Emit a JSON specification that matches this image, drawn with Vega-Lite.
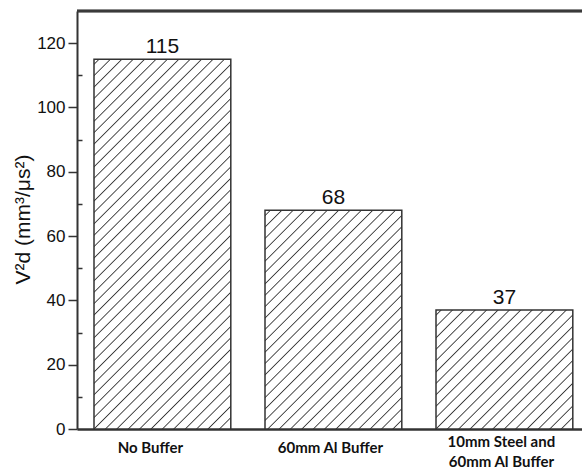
{
  "$schema": "https://vega.github.io/schema/vega-lite/v6.json",
  "width": 505,
  "height": 418,
  "autosize": {"type": "none"},
  "padding": {"left": 77, "top": 11, "right": 0, "bottom": 40},
  "background": "#ffffff",
  "config": {"view": {"stroke": null}},
  "data": {
    "values": [
      {"buffer": "No Buffer", "v2d": 115},
      {"buffer": "60mm Al Buffer", "v2d": 68},
      {"buffer": "10mm Steel and 60mm Al Buffer", "v2d": 37}
    ]
  },
  "encoding": {
    "x": {
      "field": "buffer",
      "type": "nominal",
      "sort": null,
      "scale": {"paddingInner": 0.2, "paddingOuter": 0.0766, "align": 0.649},
      "axis": {
        "title": null,
        "labelAngle": 0,
        "ticks": false,
        "domainColor": "#333333",
        "domainWidth": 2.5,
        "labelFont": "Lato",
        "labelFontWeight": "bold",
        "labelFontSize": 15,
        "labelColor": "#111111",
        "labelBaseline": "middle",
        "labelPadding": {"condition": {"test": "datum.value === '10mm Steel and 60mm Al Buffer'", "value": 12}, "value": 18},
        "labelOffset": {"condition": {"test": "datum.value === 'No Buffer'", "value": -12}, "value": -3},
        "labelLineHeight": 20,
        "labelExpr": "datum.label === '10mm Steel and 60mm Al Buffer' ? ['10mm Steel and', '60mm Al Buffer'] : datum.label"
      }
    },
    "y": {
      "field": "v2d",
      "type": "quantitative",
      "scale": {"domain": [0, 130], "nice": false, "zero": true},
      "axis": {
        "title": "V²d (mm³/μs²)",
        "titleFont": "Liberation Sans",
        "titleFontSize": 21,
        "titleFontWeight": "normal",
        "titleColor": "#111111",
        "titleAngle": 270,
        "titleAlign": "center",
        "titleBaseline": "alphabetic",
        "titleX": -48,
        "titleY": 208,
        "grid": false,
        "values": [0, 10, 20, 30, 40, 50, 60, 70, 80, 90, 100, 110, 120],
        "domainColor": "#333333",
        "domainWidth": 2,
        "tickColor": "#333333",
        "tickWidth": 1.5,
        "tickSize": {"condition": {"test": "datum.value % 20 === 0", "value": 9}, "value": -5},
        "labelExpr": "datum.value % 20 === 0 ? datum.label : ''",
        "labelFont": "Liberation Sans",
        "labelFontSize": 17,
        "labelColor": "#111111",
        "labelPadding": 3
      }
    }
  },
  "layer": [
    {
      "mark": {"type": "bar", "stroke": "#333333", "strokeWidth": 1.5},
      "encoding": {
        "fill": {
          "condition": [
            {
              "test": "datum.buffer === 'No Buffer'",
              "value": {
                "gradient": "linear", "x1": 0, "y1": 0, "x2": 0.4458, "y2": 1.205,
                "stops": [
                  {"offset": 0.0075, "color": "#fff"}, {"offset": 0.01, "color": "#3a3a3a"}, {"offset": 0.0125, "color": "#fff"},
                  {"offset": 0.03, "color": "#fff"}, {"offset": 0.0325, "color": "#3a3a3a"}, {"offset": 0.035, "color": "#fff"},
                  {"offset": 0.0525, "color": "#fff"}, {"offset": 0.055, "color": "#3a3a3a"}, {"offset": 0.0575, "color": "#fff"},
                  {"offset": 0.075, "color": "#fff"}, {"offset": 0.0775, "color": "#3a3a3a"}, {"offset": 0.08, "color": "#fff"},
                  {"offset": 0.0975, "color": "#fff"}, {"offset": 0.1, "color": "#3a3a3a"}, {"offset": 0.1025, "color": "#fff"},
                  {"offset": 0.12, "color": "#fff"}, {"offset": 0.1225, "color": "#3a3a3a"}, {"offset": 0.125, "color": "#fff"},
                  {"offset": 0.1425, "color": "#fff"}, {"offset": 0.145, "color": "#3a3a3a"}, {"offset": 0.1475, "color": "#fff"},
                  {"offset": 0.165, "color": "#fff"}, {"offset": 0.1675, "color": "#3a3a3a"}, {"offset": 0.17, "color": "#fff"},
                  {"offset": 0.1875, "color": "#fff"}, {"offset": 0.19, "color": "#3a3a3a"}, {"offset": 0.1925, "color": "#fff"},
                  {"offset": 0.21, "color": "#fff"}, {"offset": 0.2125, "color": "#3a3a3a"}, {"offset": 0.215, "color": "#fff"},
                  {"offset": 0.2325, "color": "#fff"}, {"offset": 0.235, "color": "#3a3a3a"}, {"offset": 0.2375, "color": "#fff"},
                  {"offset": 0.255, "color": "#fff"}, {"offset": 0.2575, "color": "#3a3a3a"}, {"offset": 0.26, "color": "#fff"},
                  {"offset": 0.2775, "color": "#fff"}, {"offset": 0.28, "color": "#3a3a3a"}, {"offset": 0.2825, "color": "#fff"},
                  {"offset": 0.3, "color": "#fff"}, {"offset": 0.3025, "color": "#3a3a3a"}, {"offset": 0.305, "color": "#fff"},
                  {"offset": 0.3225, "color": "#fff"}, {"offset": 0.325, "color": "#3a3a3a"}, {"offset": 0.3275, "color": "#fff"},
                  {"offset": 0.345, "color": "#fff"}, {"offset": 0.3475, "color": "#3a3a3a"}, {"offset": 0.35, "color": "#fff"},
                  {"offset": 0.3675, "color": "#fff"}, {"offset": 0.37, "color": "#3a3a3a"}, {"offset": 0.3725, "color": "#fff"},
                  {"offset": 0.39, "color": "#fff"}, {"offset": 0.3925, "color": "#3a3a3a"}, {"offset": 0.395, "color": "#fff"},
                  {"offset": 0.4125, "color": "#fff"}, {"offset": 0.415, "color": "#3a3a3a"}, {"offset": 0.4175, "color": "#fff"},
                  {"offset": 0.435, "color": "#fff"}, {"offset": 0.4375, "color": "#3a3a3a"}, {"offset": 0.44, "color": "#fff"},
                  {"offset": 0.4575, "color": "#fff"}, {"offset": 0.46, "color": "#3a3a3a"}, {"offset": 0.4625, "color": "#fff"},
                  {"offset": 0.48, "color": "#fff"}, {"offset": 0.4825, "color": "#3a3a3a"}, {"offset": 0.485, "color": "#fff"},
                  {"offset": 0.5025, "color": "#fff"}, {"offset": 0.505, "color": "#3a3a3a"}, {"offset": 0.5075, "color": "#fff"},
                  {"offset": 0.525, "color": "#fff"}, {"offset": 0.5275, "color": "#3a3a3a"}, {"offset": 0.53, "color": "#fff"},
                  {"offset": 0.5475, "color": "#fff"}, {"offset": 0.55, "color": "#3a3a3a"}, {"offset": 0.5525, "color": "#fff"},
                  {"offset": 0.57, "color": "#fff"}, {"offset": 0.5725, "color": "#3a3a3a"}, {"offset": 0.575, "color": "#fff"},
                  {"offset": 0.5925, "color": "#fff"}, {"offset": 0.595, "color": "#3a3a3a"}, {"offset": 0.5975, "color": "#fff"},
                  {"offset": 0.615, "color": "#fff"}, {"offset": 0.6175, "color": "#3a3a3a"}, {"offset": 0.62, "color": "#fff"},
                  {"offset": 0.6375, "color": "#fff"}, {"offset": 0.64, "color": "#3a3a3a"}, {"offset": 0.6425, "color": "#fff"},
                  {"offset": 0.66, "color": "#fff"}, {"offset": 0.6625, "color": "#3a3a3a"}, {"offset": 0.665, "color": "#fff"},
                  {"offset": 0.6825, "color": "#fff"}, {"offset": 0.685, "color": "#3a3a3a"}, {"offset": 0.6875, "color": "#fff"},
                  {"offset": 0.705, "color": "#fff"}, {"offset": 0.7075, "color": "#3a3a3a"}, {"offset": 0.71, "color": "#fff"},
                  {"offset": 0.7275, "color": "#fff"}, {"offset": 0.73, "color": "#3a3a3a"}, {"offset": 0.7325, "color": "#fff"},
                  {"offset": 0.75, "color": "#fff"}, {"offset": 0.7525, "color": "#3a3a3a"}, {"offset": 0.755, "color": "#fff"},
                  {"offset": 0.7725, "color": "#fff"}, {"offset": 0.775, "color": "#3a3a3a"}, {"offset": 0.7775, "color": "#fff"},
                  {"offset": 0.795, "color": "#fff"}, {"offset": 0.7975, "color": "#3a3a3a"}, {"offset": 0.8, "color": "#fff"},
                  {"offset": 0.8175, "color": "#fff"}, {"offset": 0.82, "color": "#3a3a3a"}, {"offset": 0.8225, "color": "#fff"},
                  {"offset": 0.84, "color": "#fff"}, {"offset": 0.8425, "color": "#3a3a3a"}, {"offset": 0.845, "color": "#fff"},
                  {"offset": 0.8625, "color": "#fff"}, {"offset": 0.865, "color": "#3a3a3a"}, {"offset": 0.8675, "color": "#fff"},
                  {"offset": 0.885, "color": "#fff"}, {"offset": 0.8875, "color": "#3a3a3a"}, {"offset": 0.89, "color": "#fff"},
                  {"offset": 0.9075, "color": "#fff"}, {"offset": 0.91, "color": "#3a3a3a"}, {"offset": 0.9125, "color": "#fff"},
                  {"offset": 0.93, "color": "#fff"}, {"offset": 0.9325, "color": "#3a3a3a"}, {"offset": 0.935, "color": "#fff"},
                  {"offset": 0.9525, "color": "#fff"}, {"offset": 0.955, "color": "#3a3a3a"}, {"offset": 0.9575, "color": "#fff"},
                  {"offset": 0.975, "color": "#fff"}, {"offset": 0.9775, "color": "#3a3a3a"}, {"offset": 0.98, "color": "#fff"}
                ]
              }
            },
            {
              "test": "datum.buffer === '60mm Al Buffer'",
              "value": {
                "gradient": "linear", "x1": 0, "y1": 0, "x2": 0.731, "y2": 1.1683,
                "stops": [
                  {"offset": 0.0115, "color": "#fff"}, {"offset": 0.015, "color": "#3a3a3a"}, {"offset": 0.0185, "color": "#fff"},
                  {"offset": 0.0435, "color": "#fff"}, {"offset": 0.047, "color": "#3a3a3a"}, {"offset": 0.0505, "color": "#fff"},
                  {"offset": 0.0755, "color": "#fff"}, {"offset": 0.079, "color": "#3a3a3a"}, {"offset": 0.0825, "color": "#fff"},
                  {"offset": 0.1075, "color": "#fff"}, {"offset": 0.111, "color": "#3a3a3a"}, {"offset": 0.1145, "color": "#fff"},
                  {"offset": 0.1395, "color": "#fff"}, {"offset": 0.143, "color": "#3a3a3a"}, {"offset": 0.1465, "color": "#fff"},
                  {"offset": 0.1715, "color": "#fff"}, {"offset": 0.175, "color": "#3a3a3a"}, {"offset": 0.1785, "color": "#fff"},
                  {"offset": 0.2035, "color": "#fff"}, {"offset": 0.207, "color": "#3a3a3a"}, {"offset": 0.2105, "color": "#fff"},
                  {"offset": 0.2355, "color": "#fff"}, {"offset": 0.239, "color": "#3a3a3a"}, {"offset": 0.2425, "color": "#fff"},
                  {"offset": 0.2675, "color": "#fff"}, {"offset": 0.271, "color": "#3a3a3a"}, {"offset": 0.2745, "color": "#fff"},
                  {"offset": 0.2995, "color": "#fff"}, {"offset": 0.303, "color": "#3a3a3a"}, {"offset": 0.3065, "color": "#fff"},
                  {"offset": 0.3315, "color": "#fff"}, {"offset": 0.335, "color": "#3a3a3a"}, {"offset": 0.3385, "color": "#fff"},
                  {"offset": 0.3635, "color": "#fff"}, {"offset": 0.367, "color": "#3a3a3a"}, {"offset": 0.3705, "color": "#fff"},
                  {"offset": 0.3955, "color": "#fff"}, {"offset": 0.399, "color": "#3a3a3a"}, {"offset": 0.4025, "color": "#fff"},
                  {"offset": 0.4275, "color": "#fff"}, {"offset": 0.431, "color": "#3a3a3a"}, {"offset": 0.4345, "color": "#fff"},
                  {"offset": 0.4595, "color": "#fff"}, {"offset": 0.463, "color": "#3a3a3a"}, {"offset": 0.4665, "color": "#fff"},
                  {"offset": 0.4915, "color": "#fff"}, {"offset": 0.495, "color": "#3a3a3a"}, {"offset": 0.4985, "color": "#fff"},
                  {"offset": 0.5235, "color": "#fff"}, {"offset": 0.527, "color": "#3a3a3a"}, {"offset": 0.5305, "color": "#fff"},
                  {"offset": 0.5555, "color": "#fff"}, {"offset": 0.559, "color": "#3a3a3a"}, {"offset": 0.5625, "color": "#fff"},
                  {"offset": 0.5875, "color": "#fff"}, {"offset": 0.591, "color": "#3a3a3a"}, {"offset": 0.5945, "color": "#fff"},
                  {"offset": 0.6195, "color": "#fff"}, {"offset": 0.623, "color": "#3a3a3a"}, {"offset": 0.6265, "color": "#fff"},
                  {"offset": 0.6515, "color": "#fff"}, {"offset": 0.655, "color": "#3a3a3a"}, {"offset": 0.6585, "color": "#fff"},
                  {"offset": 0.6835, "color": "#fff"}, {"offset": 0.687, "color": "#3a3a3a"}, {"offset": 0.6905, "color": "#fff"},
                  {"offset": 0.7155, "color": "#fff"}, {"offset": 0.719, "color": "#3a3a3a"}, {"offset": 0.7225, "color": "#fff"},
                  {"offset": 0.7475, "color": "#fff"}, {"offset": 0.751, "color": "#3a3a3a"}, {"offset": 0.7545, "color": "#fff"},
                  {"offset": 0.7795, "color": "#fff"}, {"offset": 0.783, "color": "#3a3a3a"}, {"offset": 0.7865, "color": "#fff"},
                  {"offset": 0.8115, "color": "#fff"}, {"offset": 0.815, "color": "#3a3a3a"}, {"offset": 0.8185, "color": "#fff"},
                  {"offset": 0.8435, "color": "#fff"}, {"offset": 0.847, "color": "#3a3a3a"}, {"offset": 0.8505, "color": "#fff"},
                  {"offset": 0.8755, "color": "#fff"}, {"offset": 0.879, "color": "#3a3a3a"}, {"offset": 0.8825, "color": "#fff"},
                  {"offset": 0.9075, "color": "#fff"}, {"offset": 0.911, "color": "#3a3a3a"}, {"offset": 0.9145, "color": "#fff"},
                  {"offset": 0.9395, "color": "#fff"}, {"offset": 0.943, "color": "#3a3a3a"}, {"offset": 0.9465, "color": "#fff"},
                  {"offset": 0.9715, "color": "#fff"}, {"offset": 0.975, "color": "#3a3a3a"}, {"offset": 0.9785, "color": "#fff"}
                ]
              }
            }
          ],
          "value": {
            "gradient": "linear", "x1": 0, "y1": 0, "x2": 1.0645, "y2": 0.9258,
            "stops": [
              {"offset": 0.015, "color": "#fff"}, {"offset": 0.02, "color": "#3a3a3a"}, {"offset": 0.025, "color": "#fff"},
              {"offset": 0.0595, "color": "#fff"}, {"offset": 0.0645, "color": "#3a3a3a"}, {"offset": 0.0695, "color": "#fff"},
              {"offset": 0.104, "color": "#fff"}, {"offset": 0.109, "color": "#3a3a3a"}, {"offset": 0.114, "color": "#fff"},
              {"offset": 0.1485, "color": "#fff"}, {"offset": 0.1535, "color": "#3a3a3a"}, {"offset": 0.1585, "color": "#fff"},
              {"offset": 0.193, "color": "#fff"}, {"offset": 0.198, "color": "#3a3a3a"}, {"offset": 0.203, "color": "#fff"},
              {"offset": 0.2375, "color": "#fff"}, {"offset": 0.2425, "color": "#3a3a3a"}, {"offset": 0.2475, "color": "#fff"},
              {"offset": 0.282, "color": "#fff"}, {"offset": 0.287, "color": "#3a3a3a"}, {"offset": 0.292, "color": "#fff"},
              {"offset": 0.3265, "color": "#fff"}, {"offset": 0.3315, "color": "#3a3a3a"}, {"offset": 0.3365, "color": "#fff"},
              {"offset": 0.371, "color": "#fff"}, {"offset": 0.376, "color": "#3a3a3a"}, {"offset": 0.381, "color": "#fff"},
              {"offset": 0.4155, "color": "#fff"}, {"offset": 0.4205, "color": "#3a3a3a"}, {"offset": 0.4255, "color": "#fff"},
              {"offset": 0.46, "color": "#fff"}, {"offset": 0.465, "color": "#3a3a3a"}, {"offset": 0.47, "color": "#fff"},
              {"offset": 0.5045, "color": "#fff"}, {"offset": 0.5095, "color": "#3a3a3a"}, {"offset": 0.5145, "color": "#fff"},
              {"offset": 0.549, "color": "#fff"}, {"offset": 0.554, "color": "#3a3a3a"}, {"offset": 0.559, "color": "#fff"},
              {"offset": 0.5935, "color": "#fff"}, {"offset": 0.5985, "color": "#3a3a3a"}, {"offset": 0.6035, "color": "#fff"},
              {"offset": 0.638, "color": "#fff"}, {"offset": 0.643, "color": "#3a3a3a"}, {"offset": 0.648, "color": "#fff"},
              {"offset": 0.6825, "color": "#fff"}, {"offset": 0.6875, "color": "#3a3a3a"}, {"offset": 0.6925, "color": "#fff"},
              {"offset": 0.727, "color": "#fff"}, {"offset": 0.732, "color": "#3a3a3a"}, {"offset": 0.737, "color": "#fff"},
              {"offset": 0.7715, "color": "#fff"}, {"offset": 0.7765, "color": "#3a3a3a"}, {"offset": 0.7815, "color": "#fff"},
              {"offset": 0.816, "color": "#fff"}, {"offset": 0.821, "color": "#3a3a3a"}, {"offset": 0.826, "color": "#fff"},
              {"offset": 0.8605, "color": "#fff"}, {"offset": 0.8655, "color": "#3a3a3a"}, {"offset": 0.8705, "color": "#fff"},
              {"offset": 0.905, "color": "#fff"}, {"offset": 0.91, "color": "#3a3a3a"}, {"offset": 0.915, "color": "#fff"},
              {"offset": 0.9495, "color": "#fff"}, {"offset": 0.9545, "color": "#3a3a3a"}, {"offset": 0.9595, "color": "#fff"}
            ]
          }
        }
      }
    },
    {
      "mark": {
        "type": "text",
        "font": "Liberation Sans",
        "fontSize": 21,
        "color": "#111111",
        "baseline": "alphabetic",
        "align": "center",
        "dy": -6
      },
      "encoding": {"text": {"field": "v2d", "type": "quantitative"}}
    },
    {
      "mark": {"type": "rule", "color": "#3a3a3a", "strokeWidth": 2.5},
      "encoding": {"y": {"datum": 130}, "x": null}
    }
  ]
}
